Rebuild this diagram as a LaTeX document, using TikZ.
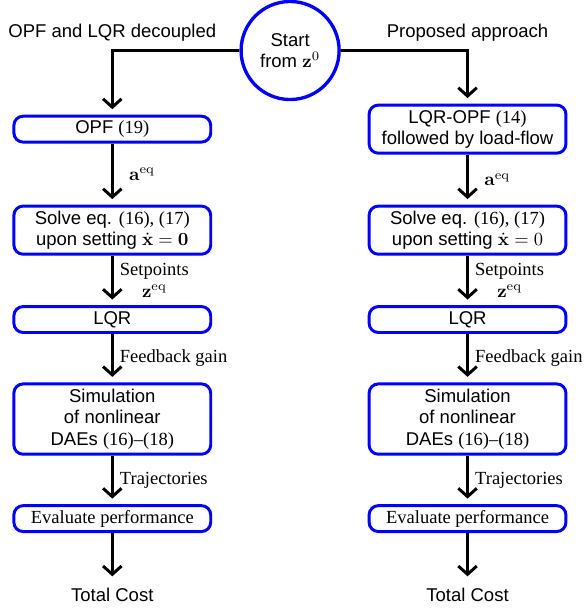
\documentclass[tikz,border=0pt]{standalone}
\usepackage{amsmath}
\usepackage{amssymb}
\usepackage[no-math]{fontspec}
\setmainfont{Liberation Serif}
\setsansfont{Liberation Sans}
\usepackage{xcolor}
\usepackage{tikz}
\usetikzlibrary{shapes,arrows.meta,positioning,calc}

\begin{document}
\begin{tikzpicture}[
    node distance=26pt and 84pt,
    startnode/.style={circle, draw=blue, line width=1.8pt, minimum size=53pt, inner sep=0pt, align=center, font=\sffamily\fontsize{10}{11.5}\selectfont},
    stepbox/.style={rectangle, rounded corners=5pt, draw=blue, line width=1.6pt, minimum width=106.4pt, minimum height=14pt, inner sep=1pt, align=center, font=\sffamily\fontsize{10}{11.5}\selectfont},
    headlabel/.style={font=\sffamily\fontsize{10}{11.5}\selectfont},
    edgelabel/.style={right, align=center, font=\rmfamily\fontsize{10}{11.5}\selectfont},
    arrow/.style={-{Straight Barb[length=4.5pt,width=10pt]}, line width=1.6pt, shorten >=3pt},
]
\useasboundingbox (-156.8pt,27.3pt) rectangle (158.9pt,-302.4pt);

% Start
\node[startnode] (start) at (0,0) {Start\\from $\mathbf{z}^0$};

% Decoupled OPF and LQR (left)
\node[stepbox] (opf) at (-96.1pt,-42.5pt) {OPF \textrm{(19)}};
\node[stepbox, minimum height=26pt, below=33pt of opf] (solve1) {Solve eq. \textrm{(16), (17)}\\upon setting $\dot{\mathbf{x}} = \mathbf{0}$};
\node[stepbox, below=26.7pt of solve1] (lqr1) {LQR};
\node[stepbox, minimum height=38pt, below=26.2pt of lqr1] (sim1) {Simulation\\of nonlinear\\DAEs \textrm{(16)--(18)}};
\node[stepbox, font=\rmfamily, below=26.2pt of sim1] (eval1) {Evaluate performance};
\node[headlabel, below=26.4pt of eval1] (cost1) {Total Cost};

% Proposed approach (right)
\node[stepbox, minimum height=26pt, right=of opf] (lqropf) {LQR-OPF \textrm{(14)}\\followed by load-flow};
\node[stepbox, minimum height=26pt, right=of solve1] (solve2) {Solve eq. \textrm{(16), (17)}\\upon setting $\dot{\mathbf{x}} = 0$};
\node[stepbox, right=of lqr1] (lqr2) {LQR};
\node[stepbox, minimum height=38pt, right=of sim1] (sim2) {Simulation\\of nonlinear\\DAEs \textrm{(16)--(18)}};
\node[stepbox, font=\rmfamily, right=of eval1] (eval2) {Evaluate performance};
\node[headlabel, below=26.4pt of eval2] (cost2) {Total Cost};

% Headings
\node[headlabel] (lefthead) at ($(opf |- start)+(0,9.5pt)$) {OPF and LQR decoupled};
\node[headlabel] (righthead) at ($(lqropf |- start)+(0,9.5pt)$) {Proposed approach};

% Arrows - start to both branches
\draw[arrow] (start.west) -| (opf.north);
\draw[arrow] (start.east) -| (lqropf.north);

% Arrows - left branch
\draw[arrow] (opf.south) -- node[edgelabel, xshift=5pt] {$\mathbf{a}^{\mathrm{eq}}$} (solve1.north);
\draw[arrow] (solve1.south) -- node[edgelabel] {Setpoints\\$\mathbf{z}^{\mathrm{eq}}$} (lqr1.north);
\draw[arrow] (lqr1.south) -- node[edgelabel] {Feedback gain} (sim1.north);
\draw[arrow] (sim1.south) -- node[edgelabel] {Trajectories} (eval1.north);
\draw[arrow] (eval1.south) -- (cost1.north);

% Arrows - right branch
\draw[arrow] (lqropf.south) -- node[edgelabel, xshift=5pt] {$\mathbf{a}^{\mathrm{eq}}$} (solve2.north);
\draw[arrow] (solve2.south) -- node[edgelabel] {Setpoints\\$\mathbf{z}^{\mathrm{eq}}$} (lqr2.north);
\draw[arrow] (lqr2.south) -- node[edgelabel] {Feedback gain} (sim2.north);
\draw[arrow] (sim2.south) -- node[edgelabel] {Trajectories} (eval2.north);
\draw[arrow] (eval2.south) -- (cost2.north);

\end{tikzpicture}
\end{document}
